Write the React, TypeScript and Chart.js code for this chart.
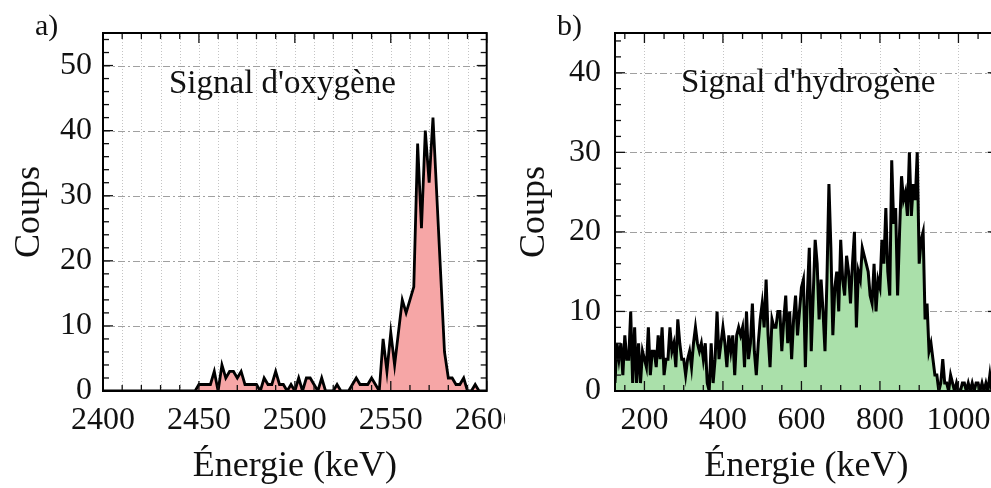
import React, { useEffect, useRef } from 'react';
import { Chart, registerables } from 'chart.js';

Chart.register(...registerables);

const FONT = '"Liberation Serif", "Times New Roman", Times, serif';

// ---- Panel a) : oxygen signal (2 keV bins from 2400 keV) ----
const O_START = 2400;
const O_BIN = 2;
const O_COUNTS = [
  0, 0, 0, 0, 0, 0, 0, 0, 0, 0,
  0, 0, 0, 0, 0, 0, 0, 0, 0, 0,
  0, 0, 0, 0, 0, 1, 1, 1, 1, 3,
  0, 4, 2, 3, 3, 2, 3, 1, 1, 1,
  1, 0, 2, 1, 1, 3, 1, 1, 0, 1,
  0, 2, 0, 2, 2, 1, 0, 2, 0, 0,
  0, 1, 0, 0, 0, 1, 2, 1, 1, 1,
  2, 1, 0, 8, 3, 9, 4, 9, 14, 12,
  14, 16, 38, 25, 40, 32, 42, 30, 18, 6,
  2, 2, 1, 1, 2, 0, 0, 1, 0, 0,
  0,
];
const O_X_TICKS = [2400, 2450, 2500, 2550, 2600];
const O_Y_TICKS = [0, 10, 20, 30, 40, 50];

// ---- Panel b) : hydrogen signal (5 keV bins from 125 keV) ----
const H_START = 125;
const H_BIN = 5;
const H_COUNTS = [
  1, 6, 4, 6, 2, 7, 4, 4, 10, 1,
  8, 1, 6, 1, 5, 4, 3, 8, 2, 5,
  5, 3, 7, 4, 8, 2, 4, 4, 8, 5,
  6, 3, 9, 6, 4, 4, 2, 4, 5, 3,
  6, 8, 6, 5, 6, 4, 6, 1, 0, 6,
  1, 4, 10, 4, 6, 8, 6, 3, 7, 5,
  7, 2, 7, 8, 7, 8, 3, 10, 4, 6,
  11, 5, 2, 6, 9, 11, 8, 14, 7, 3,
  9, 8, 8, 10, 10, 5, 9, 12, 6, 10,
  4, 9, 12, 7, 10, 13, 14, 3, 12, 18,
  5, 12, 19, 16, 9, 14, 10, 5, 14, 26,
  18, 7, 13, 15, 10, 19, 14, 12, 17, 15,
  11, 16, 20, 8, 15, 14, 18, 17, 16, 15,
  12, 11, 16, 10, 14, 13, 19, 16, 23, 15,
  12, 29, 21, 23, 12, 20, 27, 24, 25, 22,
  30, 22, 26, 24, 30, 16, 19, 20, 9, 11,
  5, 6, 4, 2, 2, 0, 1, 4, 1, 1,
  0, 2, 1, 0, 1, 0, 0, 1, 1, 0,
  1, 0, 1, 0, 1, 1, 0, 1, 0, 1,
  0, 2, 0, 1, 0, 0,
];
const H_X_TICKS = [200, 400, 600, 800, 1000];
const H_Y_TICKS = [0, 10, 20, 30, 40];

type PanelDef = {
  start: number;
  bin: number;
  counts: number[];
  xTicks: number[];
  yTicks: number[];
  xMin: number;
  xMax: number;
  yMax: number;
  fill: string;
  lineWidth: number;
  label: string;
  letter: string;
  xGridStep: number;
  xMinorStep: number;
  xMajorStep: number;
  yMinorStep: number;
  yMajorStep: number;
  canvasLeft: number;
  canvasWidth: number;
  yAxisWidth: number;
  padRight: number;
  yTickPad: number;
  labelX: number;
  labelY: number;
  letterX: number;
  letterY: number;
};

const PANELS: PanelDef[] = [
  {
    start: O_START, bin: O_BIN, counts: O_COUNTS, xTicks: O_X_TICKS, yTicks: O_Y_TICKS,
    xMin: 2400, xMax: 2600, yMax: 55, fill: 'rgb(246,166,166)', lineWidth: 2.8,
    label: "Signal d'oxygène", letter: 'a)',
    xGridStep: 10, xMinorStep: 10, xMajorStep: 50, yMinorStep: 2, yMajorStep: 10,
    canvasLeft: 0, canvasWidth: 505, yAxisWidth: 103, padRight: 18.3, yTickPad: 11,
    labelX: 169, labelY: 93, letterX: 35, letterY: 35,
  },
  {
    start: H_START, bin: H_BIN, counts: H_COUNTS, xTicks: H_X_TICKS, yTicks: H_Y_TICKS,
    xMin: 125, xMax: 1100, yMax: 45, fill: 'rgb(170,224,170)', lineWidth: 3,
    label: "Signal d'hydrogène", letter: 'b)',
    xGridStep: 100, xMinorStep: 50, xMajorStep: 200, yMinorStep: 2, yMajorStep: 10,
    canvasLeft: 505, canvasWidth: 495, yAxisWidth: 110, padRight: 2.3, yTickPad: 14,
    labelX: 176, labelY: 92, letterX: 52, letterY: 35,
  },
];

function seg(ctx: CanvasRenderingContext2D, x1: number, y1: number, x2: number, y2: number) {
  ctx.beginPath();
  ctx.moveTo(x1, y1);
  ctx.lineTo(x2, y2);
  ctx.stroke();
}

const framePlugin = {
  id: 'frame',
  beforeDraw(chart: any) {
    const ctx = chart.ctx as CanvasRenderingContext2D;
    ctx.save();
    ctx.fillStyle = '#ffffff';
    ctx.fillRect(0, 0, chart.width, chart.height);
    ctx.restore();
  },
  beforeDatasetsDraw(chart: any, _args: any, o: any) {
    const ctx = chart.ctx as CanvasRenderingContext2D;
    const ca = chart.chartArea;
    const xs = chart.scales.x;
    const ys = chart.scales.y;
    ctx.save();
    ctx.lineWidth = 1;
    ctx.strokeStyle = '#c4c4c4';
    ctx.setLineDash([1, 2]);
    const g0 = Math.ceil(o.xMin / o.xGridStep) * o.xGridStep;
    for (let v = g0; v <= o.xMax; v += o.xGridStep) {
      const px = Math.round(xs.getPixelForValue(v)) + 0.5;
      if (px <= ca.left + 2 || px >= ca.right - 2) continue;
      seg(ctx, px, ca.top, px, ca.bottom);
    }
    ctx.strokeStyle = '#a0a0a0';
    ctx.setLineDash([7, 3, 2, 3]);
    for (const v of o.yTicks) {
      const py = Math.round(ys.getPixelForValue(v)) + 0.5;
      if (py <= ca.top + 2 || py >= ca.bottom - 2) continue;
      seg(ctx, ca.left, py, ca.right, py);
    }
    ctx.restore();
  },
  afterDatasetsDraw(chart: any, _args: any, o: any) {
    const ctx = chart.ctx as CanvasRenderingContext2D;
    const ca = chart.chartArea;
    const xs = chart.scales.x;
    const ys = chart.scales.y;
    ctx.save();
    ctx.strokeStyle = '#111';
    ctx.lineWidth = 1.3;
    const MAJ = 10;
    const MIN = 6;
    const x0 = Math.ceil(o.xMin / o.xMinorStep) * o.xMinorStep;
    for (let v = x0; v <= o.xMax; v += o.xMinorStep) {
      const px = xs.getPixelForValue(v);
      const len = v % o.xMajorStep === 0 ? MAJ : MIN;
      seg(ctx, px, ca.bottom, px, ca.bottom - len);
      seg(ctx, px, ca.top, px, ca.top + len);
    }
    for (let v = 0; v <= o.yMax; v += o.yMinorStep) {
      const py = ys.getPixelForValue(v);
      const len = v % o.yMajorStep === 0 ? MAJ : MIN;
      seg(ctx, ca.left, py, ca.left + len, py);
      seg(ctx, ca.right, py, ca.right - len, py);
    }
    ctx.lineWidth = 2;
    ctx.strokeStyle = '#000';
    ctx.strokeRect(ca.left, ca.top, ca.right - ca.left, ca.bottom - ca.top);
    ctx.fillStyle = '#111';
    ctx.textBaseline = 'alphabetic';
    ctx.textAlign = 'left';
    ctx.font = `33px ${FONT}`;
    ctx.fillText(o.label, o.labelX, o.labelY);
    ctx.font = `30px ${FONT}`;
    ctx.fillText(o.letter, o.letterX, o.letterY);
    ctx.restore();
  },
};

function buildConfig(p: PanelDef): any {
  const points = p.counts.map((c, i) => ({ x: p.start + i * p.bin, y: c }));
  return {
    type: 'line',
    data: {
      datasets: [
        {
          data: points,
          borderColor: '#000',
          borderWidth: p.lineWidth,
          borderJoinStyle: 'miter',
          backgroundColor: p.fill,
          fill: 'origin',
          pointRadius: 0,
          tension: 0,
        },
      ],
    },
    plugins: [framePlugin],
    options: {
      animation: false,
      responsive: false,
      devicePixelRatio: 1,
      events: [],
      layout: { padding: { left: 0, top: 33, right: p.padRight, bottom: 0 } },
      plugins: {
        legend: { display: false },
        tooltip: { enabled: false },
        frame: {
          xMin: p.xMin, xMax: p.xMax, yMax: p.yMax, yTicks: p.yTicks,
          xGridStep: p.xGridStep, xMinorStep: p.xMinorStep, xMajorStep: p.xMajorStep,
          yMinorStep: p.yMinorStep, yMajorStep: p.yMajorStep,
          label: p.label, labelX: p.labelX, labelY: p.labelY,
          letter: p.letter, letterX: p.letterX, letterY: p.letterY,
        },
      },
      scales: {
        x: {
          type: 'linear',
          min: p.xMin,
          max: p.xMax,
          afterBuildTicks: (s: any) => {
            s.ticks = p.xTicks.map((v) => ({ value: v }));
          },
          afterFit: (s: any) => {
            s.height = 97;
            s.paddingLeft = 0;
            s.paddingRight = 0;
          },
          grid: { display: false, drawTicks: false },
          border: { display: false },
          ticks: {
            font: { family: FONT, size: 32 },
            color: '#111',
            padding: 10,
            maxRotation: 0,
            autoSkip: false,
            callback: (v: any) => String(v),
          },
          title: {
            display: true,
            text: 'Énergie (keV)',
            font: { family: FONT, size: 36 },
            color: '#111',
            padding: { top: 0, bottom: 0 },
          },
        },
        y: {
          type: 'linear',
          min: 0,
          max: p.yMax,
          afterBuildTicks: (s: any) => {
            s.ticks = p.yTicks.map((v) => ({ value: v }));
          },
          afterFit: (s: any) => {
            s.width = p.yAxisWidth;
            s.paddingTop = 0;
            s.paddingBottom = 0;
          },
          grid: { display: false, drawTicks: false },
          border: { display: false },
          ticks: {
            font: { family: FONT, size: 32 },
            color: '#111',
            padding: p.yTickPad,
            autoSkip: false,
            callback: (v: any) => String(v),
          },
          title: {
            display: true,
            text: 'Coups',
            font: { family: FONT, size: 36 },
            color: '#111',
            padding: { top: 8, bottom: 0 },
          },
        },
      },
    },
  };
}

function Panel({ p }: { p: PanelDef }) {
  const ref = useRef<HTMLCanvasElement>(null);
  useEffect(() => {
    const chart = new Chart(ref.current as HTMLCanvasElement, buildConfig(p));
    return () => chart.destroy();
  }, [p]);
  return (
    <canvas
      ref={ref}
      width={p.canvasWidth}
      height={488}
      style={{ position: 'absolute', left: p.canvasLeft, top: 0, width: p.canvasWidth, height: 488 }}
    />
  );
}

export default function App() {
  return (
    <div
      style={{
        position: 'fixed',
        left: 0,
        top: 0,
        width: 991,
        height: 488,
        overflow: 'hidden',
        background: '#fff',
      }}
    >
      {PANELS.map((p, i) => (
        <Panel key={i} p={p} />
      ))}
    </div>
  );
}
